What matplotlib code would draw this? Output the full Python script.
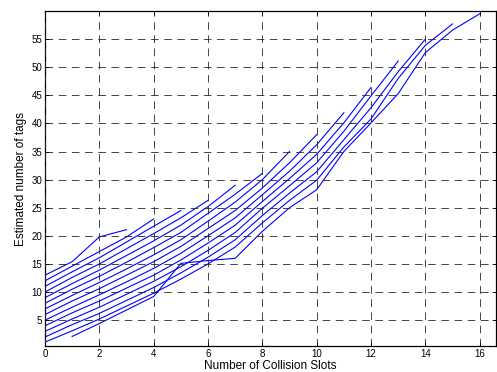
import matplotlib
matplotlib.use('Agg')
import matplotlib.pyplot as plt

plt.rcParams['font.family'] = ['Liberation Sans', 'DejaVu Sans']
plt.rcParams['lines.scale_dashes'] = False

# estimated number of tags vs number of collision slots,
# one curve per number of successful slots (s = 0 .. 13)
est_s0 = [2.1, 4.4, 6.8, 9.2, 15.1, 15.6, 16.0, 20.8, 25.0, 28.2, 35.0, 40.1, 45.3, 52.6, 56.6, 59.5]
est_s1 = [1.1, 3.1, 5.2, 7.5, 9.8, 12.3, 15.0, 18.0, 22.3, 26.3, 29.9, 35.8, 40.8, 48.0, 53.9, 57.7]
est_s2 = [2.0, 4.2, 6.2, 8.5, 10.8, 13.4, 16.2, 19.3, 23.6, 27.6, 31.4, 37.1, 42.8, 49.2, 55.0]
est_s3 = [3.0, 5.2, 7.3, 9.6, 11.9, 14.5, 17.4, 20.6, 24.9, 28.9, 33.0, 38.6, 44.9, 51.1]
est_s4 = [4.0, 6.3, 8.4, 10.7, 13.0, 15.7, 18.7, 21.9, 26.1, 30.2, 34.5, 40.1, 46.4]
est_s5 = [5.0, 7.3, 9.5, 11.8, 14.2, 16.9, 20.0, 23.2, 27.3, 31.5, 36.2, 41.9]
est_s6 = [6.0, 8.4, 10.6, 13.0, 15.4, 18.1, 21.3, 24.5, 28.5, 33.0, 38.0]
est_s7 = [7.0, 9.4, 11.7, 14.1, 16.6, 19.3, 22.6, 26.0, 30.0, 35.0]
est_s8 = [8.0, 10.5, 12.8, 15.3, 17.9, 20.6, 24.0, 27.4, 31.1]
est_s9 = [9.0, 11.5, 13.9, 16.5, 19.1, 21.9, 25.2, 29.0]
est_s10 = [10.0, 12.6, 15.0, 17.7, 20.4, 23.2, 26.3]
est_s11 = [11.0, 13.6, 16.1, 18.9, 21.7, 24.5]
est_s12 = [12.0, 14.6, 17.2, 19.8, 23.0]
est_s13 = [13.0, 15.4, 19.8, 21.1]

# first collision-slot value of each curve
first_slot = [1, 0, 0, 0, 0, 0, 0, 0, 0, 0, 0, 0, 0, 0]
curves = [est_s0, est_s1, est_s2, est_s3, est_s4, est_s5, est_s6,
          est_s7, est_s8, est_s9, est_s10, est_s11, est_s12, est_s13]

x_ticks = [0, 2, 4, 6, 8, 10, 12, 14, 16]
y_ticks = [5, 10, 15, 20, 25, 30, 35, 40, 45, 50, 55]

fig = plt.figure(figsize=(4.97, 3.72), dpi=100)
ax = fig.add_axes([0.0905, 0.0699, 0.9075, 0.9005])

for start, est in zip(first_slot, curves):
    ax.plot(range(start, start + len(est)), est, color='#0000ff', lw=0.8)

ax.set_xlim(0, 16.6)
ax.set_ylim(0.4, 60)
ax.set_xticks(x_ticks)
ax.set_yticks(y_ticks)
ax.grid(True, color='0.15', lw=0.6, linestyle=(0, (5.5, 4)))
ax.set_axisbelow(False)
ax.tick_params(direction='in', length=3, width=0.6, top=True, right=True,
               labelsize=7, pad=2)
for sp in ax.spines.values():
    sp.set_linewidth(0.9)

ax.set_xlabel('Number of Collision Slots', fontsize=8.5, labelpad=1)
ax.set_ylabel('Estimated number of tags', fontsize=8.5, labelpad=3)

fig.savefig('out.png', dpi=100)
